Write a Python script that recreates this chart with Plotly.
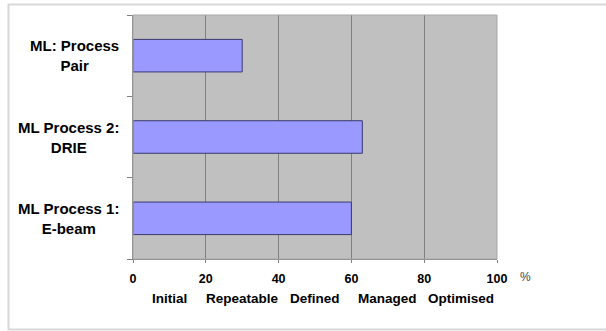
import plotly.graph_objects as go

# Process maturity scores (%)
processes = ["ML Process 1:<br>E-beam", "ML Process 2:<br>DRIE", "ML: Process<br>Pair"]
scores = [60, 63, 30]
x_ticks = [0, 20, 40, 60, 80, 100]
levels = ["Initial", "Repeatable", "Defined", "Managed", "Optimised"]
level_pos = [10, 30, 50, 70, 90]

W, H = 606, 331
L, R, T, B = 133, 109, 15, 72
pw, ph = W - L - R, H - T - B

def px_x(p):
    return (p - L) / pw

def px_y(p):
    return (H - B - p) / ph

fig = go.Figure(go.Bar(
    x=scores, y=processes, orientation="h",
    marker=dict(color="#9999ff", line=dict(color="#3a3a6e", width=1)),
    width=0.4,
))

font = "Liberation Sans, Arial, sans-serif"

annotations = []
for name in processes:
    annotations.append(dict(
        x=px_x(121), xref="paper", y=name, yref="y",
        text="<b>" + name + "</b>", showarrow=False,
        xanchor="right", yanchor="middle", align="center",
        font=dict(family=font, size=15, color="#000"),
    ))
for lab, pos in zip(levels, level_pos):
    annotations.append(dict(
        x=pos, xref="x", y=px_y(298.5), yref="paper",
        text="<b>" + lab + "</b>", showarrow=False,
        xanchor="center", yanchor="middle",
        font=dict(family=font, size=13.5, color="#000"),
    ))
annotations.append(dict(
    x=px_x(525), xref="paper", y=px_y(277), yref="paper",
    text="%", showarrow=False, xanchor="center", yanchor="middle",
    font=dict(family=font, size=12, color="#444"),
))

shapes = [
    # light frame around the whole chart
    dict(type="rect", xref="paper", yref="paper",
         x0=px_x(8.5), x1=px_x(620), y0=px_y(329.5), y1=px_y(4.5),
         line=dict(color="#d8d8d8", width=2), layer="below"),
    # plot area outline
    dict(type="rect", xref="paper", yref="paper", x0=0, x1=1, y0=0, y1=1,
         line=dict(color="#a8a8a8", width=1), layer="above"),
]

fig.update_layout(
    width=W, height=H,
    margin=dict(l=L, r=R, t=T, b=B),
    paper_bgcolor="white", plot_bgcolor="#c0c0c0",
    showlegend=False,
    bargap=0.6,
    annotations=annotations,
    shapes=shapes,
    xaxis=dict(
        range=[0, 100], tickvals=x_ticks,
        ticktext=["<b>%d</b>" % v for v in x_ticks],
        tickfont=dict(family=font, size=12.5, color="#000"),
        ticklabelstandoff=5,
        showgrid=True, gridcolor="#808080", gridwidth=1,
        zeroline=False,
        showline=True, linecolor="#808080", linewidth=1,
        ticks="outside", ticklen=3, tickcolor="#808080",
        fixedrange=True,
    ),
    yaxis=dict(
        categoryorder="array", categoryarray=processes,
        showticklabels=False,
        tickson="boundaries", ticks="outside", ticklen=5, tickcolor="#808080",
        showgrid=False, zeroline=False,
        showline=True, linecolor="#808080", linewidth=1,
        fixedrange=True,
    ),
)

fig.write_html("out.html")
